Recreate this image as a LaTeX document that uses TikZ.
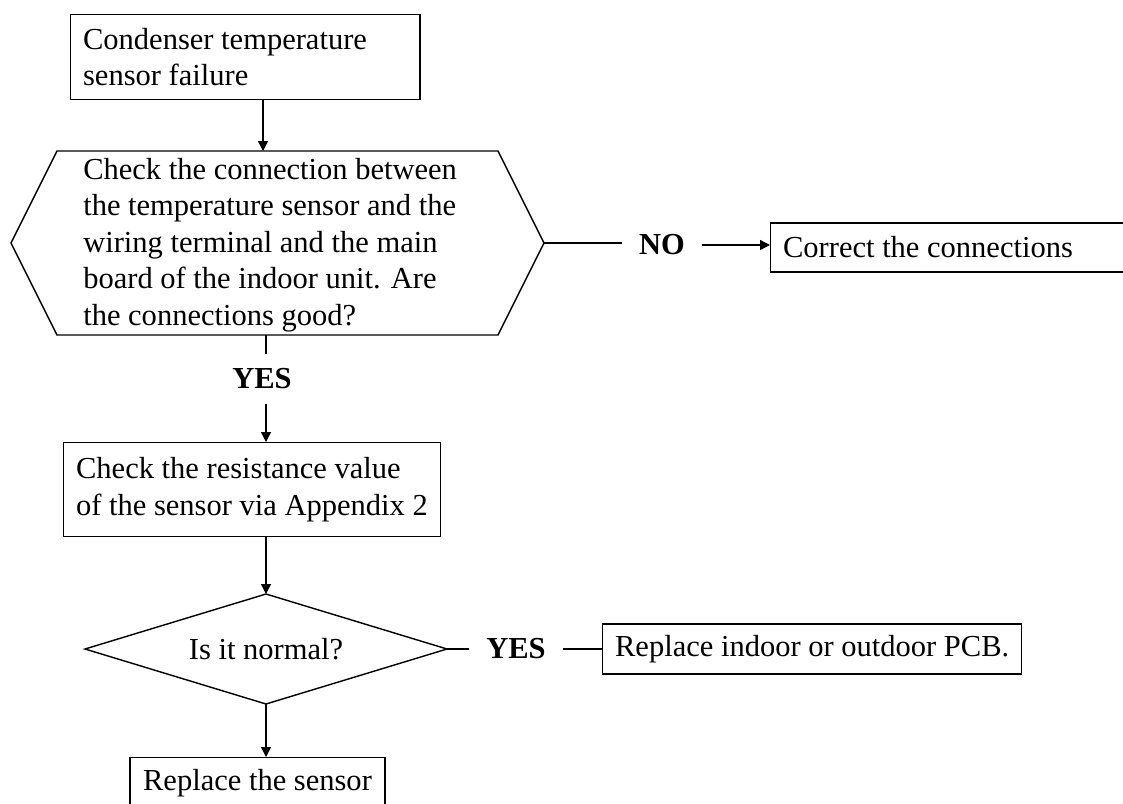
\documentclass[tikz,border=0pt]{standalone}
\usepackage{fontspec}
\setmainfont{Liberation Serif}
\usetikzlibrary{arrows.meta}

\tikzset{
  flowtext/.style={font=\fontsize{21.7}{26}\selectfont},
  stepbox/.style={flowtext, draw, line width=1pt, inner xsep=0.31cm, inner ysep=0pt, align=flush left},
  answer/.style={font=\fontsize{21.7}{26}\selectfont\bfseries, inner xsep=0.425cm, inner ysep=0pt},
  conn/.style={line width=1pt},
  arr/.style={conn, -{Triangle[length=0.25cm,width=0.25cm]}}
}

\begin{document}
\begin{tikzpicture}[x=0.025cm,y=-0.025cm]

% Page frame (pixel grid of the reference)
\useasboundingbox (0,0) rectangle (1123,803);

% Start
\node[stepbox, anchor=north west, text width=8.105cm, minimum height=2.125cm]
      (fail) at (70,14) {Condenser temperature\\sensor failure};

% Hexagon: connection check
\coordinate (hexN) at (263,151);
\coordinate (hexS) at (266,335);
\coordinate (hexW) at (11,243);
\coordinate (hexE) at (544,243);
\draw[conn] (hexW) -- (57,151) -- (498,151) -- (hexE) -- (498,335) -- (57,335) -- cycle;
\node[flowtext, anchor=west, align=flush left, inner sep=0pt] (conncheck) at (83,245)
      {Check the connection between\\the temperature sensor and the\\wiring terminal and the main\\board of the indoor unit. Are\\the connections good?};

\draw[arr] (fail.south -| hexN) -- (hexN);

% NO branch
\node[answer] (no) at (662,245) {NO};
\node[stepbox, anchor=west, text width=8.5cm, minimum height=1.225cm]
      (fix) at (770,247.5) {Correct the connections};
\draw[conn] (hexE) -- (hexE -| no.west);
\draw[arr] (no.east) -- (no.east -| fix.west);

% YES branch
\node[answer, minimum height=1.225cm] (yes1) at (262,379) {YES};
\node[stepbox, anchor=north west, minimum height=2.35cm]
      (resist) at (63,442) {Check the resistance value\\of the sensor via Appendix 2};
\draw[conn] (hexS) -- (hexS |- yes1.north);
\draw[arr] (yes1.south -| hexS) -- (hexS |- resist.north);

% Diamond: is it normal
\coordinate (decN) at (266,594);
\coordinate (decE) at (447,649);
\coordinate (decS) at (266,704);
\coordinate (decW) at (85,649);
\draw[conn] (decN) -- (decE) -- (decS) -- (decW) -- cycle;
\node[flowtext] (normal) at (266,649) {Is it normal?};
\draw[arr] (resist.south -| decN) -- (decN);

% Normal -> board
\node[answer] (yes2) at (516,649) {YES};
\node[stepbox, anchor=west, minimum height=1.25cm] (pcb) at (602,649)
      {Replace indoor or outdoor PCB.};
\draw[conn] (decE) -- (yes2.west);
\draw[conn] (yes2.east) -- (pcb.west);

% Not normal -> sensor
\node[stepbox, anchor=north, minimum width=6.375cm, minimum height=1.25cm]
      (swap) at (257.5,757) {Replace the sensor};
\draw[arr] (decS) -- (decS |- swap.north);

\end{tikzpicture}
\end{document}
